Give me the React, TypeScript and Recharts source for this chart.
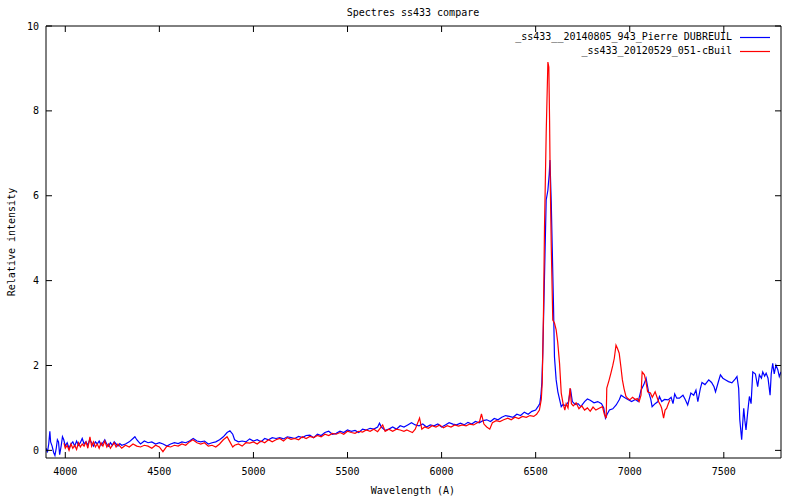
import React from 'react';
import { LineChart, Line, XAxis, YAxis, Legend } from 'recharts';

const seriesNames = ['_ss433__20140805_943_Pierre DUBREUIL', '_ss433_20120529_051-cBuil'];
const seriesColors = ['#0000ff', '#ff0000'];
const xTicks = [4000, 4500, 5000, 5500, 6000, 6500, 7000, 7500];
const yTicks = [0, 2, 4, 6, 8, 10];
const titleText = 'Spectres ss433 compare';
const xTitle = 'Wavelength (A)';
const yTitle = 'Relative intensity';

const blueWave = [
  3898, 3905, 3912, 3918, 3922, 3930, 3938, 3945, 3952, 3958, 3964, 3970, 3978, 3985, 3992,
  4000, 4010, 4020, 4030, 4040, 4050, 4060, 4070, 4080, 4090, 4100, 4110, 4120, 4130, 4140,
  4150, 4160, 4170, 4180, 4190, 4200, 4210, 4220, 4230, 4240, 4250, 4260, 4270, 4280, 4290,
  4300, 4320, 4340, 4360, 4370, 4380, 4390, 4400, 4420, 4440, 4460, 4480, 4500, 4520, 4540,
  4560, 4580, 4600, 4620, 4640, 4660, 4680, 4700, 4720, 4740, 4760, 4780, 4800, 4820, 4840,
  4860, 4875, 4890, 4900, 4920, 4940, 4960, 4980, 5000, 5020, 5040, 5060, 5080, 5100, 5120,
  5140, 5160, 5180, 5200, 5220, 5240, 5260, 5280, 5300, 5320, 5340, 5360, 5380, 5400, 5420,
  5440, 5460, 5480, 5500, 5520, 5540, 5560, 5580, 5600, 5620, 5640, 5660, 5670, 5680, 5700,
  5720, 5740, 5760, 5780, 5800, 5820, 5840, 5860, 5880, 5900, 5920, 5940, 5960, 5980, 6000,
  6020, 6040, 6060, 6080, 6100, 6120, 6140, 6160, 6180, 6200, 6220, 6240, 6260, 6280, 6300,
  6320, 6340, 6360, 6380, 6400, 6420, 6440, 6460, 6480, 6500, 6515, 6522, 6528, 6533, 6538,
  6547, 6556, 6565, 6572, 6576, 6583, 6588, 6595, 6600, 6609, 6618, 6636, 6645, 6660, 6675,
  6685, 6695, 6710, 6725, 6740, 6760, 6775, 6790, 6810, 6830, 6850, 6862, 6871, 6880, 6892,
  6910, 6928, 6945, 6954, 6970, 6990, 7010, 7030, 7045, 7060, 7075, 7087, 7100, 7112, 7119,
  7135, 7150, 7158, 7170, 7185, 7204, 7220, 7230, 7239, 7250, 7264, 7283, 7295, 7308, 7325,
  7340, 7352, 7362, 7375, 7384, 7400, 7420, 7435, 7448, 7456, 7470, 7482, 7495, 7510, 7525,
  7543, 7560, 7570, 7579, 7585, 7595, 7600, 7606, 7612, 7618, 7627, 7636, 7645, 7654, 7668,
  7680, 7689, 7700, 7707, 7717, 7725, 7735, 7746, 7752, 7760, 7768, 7777, 7787, 7795, 7804,
];
const blueFlux = [
  0.05, -0.05, 0.15, 0.45, 0.2, 0.1, -0.05, -0.12, 0.05, 0.25, 0.2, -0.1, 0.1, 0.32, 0.25,
  0.1, 0.18, 0.05, 0.15, 0.2, 0.1, 0.22, 0.12, 0.18, 0.28, 0.15, 0.2, 0.12, 0.25, 0.18,
  0.1, 0.2, 0.15, 0.22, 0.12, 0.18, 0.25, 0.15, 0.1, 0.18, 0.12, 0.2, 0.15, 0.1, 0.16,
  0.12, 0.15, 0.2, 0.28, 0.32, 0.25, 0.2, 0.15, 0.22, 0.18, 0.2, 0.15, 0.18, 0.15, 0.1,
  0.15, 0.18, 0.16, 0.2, 0.18, 0.22, 0.28, 0.22, 0.2, 0.22, 0.15, 0.18, 0.2, 0.25, 0.32,
  0.42, 0.46, 0.38, 0.25, 0.2, 0.22, 0.2, 0.27, 0.22, 0.25, 0.2, 0.28, 0.25, 0.3, 0.28,
  0.3, 0.27, 0.32, 0.3, 0.28, 0.33, 0.3, 0.35, 0.36, 0.3, 0.38, 0.35, 0.42, 0.45, 0.38,
  0.4, 0.45, 0.42, 0.48, 0.45, 0.47, 0.42, 0.5, 0.48, 0.52, 0.5, 0.55, 0.64, 0.55, 0.47,
  0.5, 0.55, 0.5, 0.58, 0.55, 0.6, 0.65, 0.6, 0.58, 0.62, 0.55, 0.6, 0.58, 0.62, 0.55,
  0.6, 0.65, 0.62, 0.6, 0.64, 0.6, 0.66, 0.62, 0.68, 0.65, 0.7, 0.72, 0.68, 0.75, 0.72,
  0.78, 0.82, 0.8, 0.78, 0.85, 0.82, 0.9, 0.85, 0.92, 0.95, 1.05, 1.1, 1.3, 1.6, 2.3,
  4.1, 5.9, 6.13, 6.5, 6.84, 5.82, 4.8, 3.38, 2.2, 1.66, 1.38, 1.03, 1.08, 1.05, 1.15,
  1.45, 1.15, 1.08, 1.1, 1.03, 1.15, 1.21, 1.18, 1.12, 1.15, 1.1, 1.0, 0.76, 0.85, 0.95,
  0.98, 1.07, 1.2, 1.3, 1.25, 1.2, 1.15, 1.2, 1.15, 1.42, 1.55, 1.7, 1.38, 1.2, 1.03,
  1.1, 1.15, 1.27, 1.15, 1.2, 1.19, 1.25, 1.1, 1.33, 1.23, 1.23, 1.3, 1.2, 1.07, 1.35,
  1.3, 1.42, 1.15, 1.45, 1.6, 1.55, 1.66, 1.6, 1.5, 1.38, 1.6, 1.78, 1.7, 1.66, 1.62,
  1.59, 1.68, 1.74, 1.46, 0.72, 0.25, 0.6, 0.99, 0.7, 0.48, 0.9, 1.27, 1.1, 1.85, 1.8,
  1.5, 1.78, 1.7, 1.85, 1.75, 1.82, 1.7, 1.3, 1.8, 2.05, 1.8, 2.01, 1.9, 1.74, 1.85,
];

const redWave = [
  3993, 4000, 4010, 4020, 4030, 4040, 4050, 4060, 4070, 4080, 4090, 4100, 4110, 4120, 4131,
  4140, 4150, 4160, 4170, 4180, 4190, 4200, 4210, 4221, 4230, 4240, 4250, 4260, 4270, 4280,
  4290, 4300, 4320, 4340, 4360, 4380, 4400, 4420, 4440, 4460, 4480, 4500, 4519, 4540, 4560,
  4580, 4600, 4620, 4640, 4660, 4678, 4700, 4720, 4740, 4760, 4780, 4800, 4820, 4840, 4860,
  4875, 4890, 4900, 4920, 4940, 4960, 4980, 5000, 5020, 5040, 5060, 5080, 5100, 5120, 5140,
  5160, 5180, 5200, 5220, 5240, 5260, 5280, 5300, 5320, 5340, 5360, 5380, 5400, 5420, 5440,
  5460, 5480, 5500, 5520, 5540, 5560, 5580, 5600, 5620, 5640, 5660, 5687, 5700, 5720, 5740,
  5760, 5780, 5800, 5815, 5830, 5845, 5860, 5883, 5895, 5910, 5930, 5950, 5970, 5990, 6010,
  6030, 6050, 6070, 6090, 6110, 6130, 6150, 6170, 6190, 6202, 6212, 6225, 6240, 6256, 6270,
  6290, 6310, 6330, 6352, 6370, 6390, 6410, 6430, 6450, 6470, 6490, 6505, 6520, 6530, 6535,
  6538, 6542, 6547, 6556, 6565, 6570, 6574, 6577, 6583, 6591, 6600, 6609, 6617, 6627, 6636,
  6645, 6655, 6662, 6672, 6683, 6690, 6700, 6715, 6730, 6745, 6760, 6775, 6790, 6805, 6820,
  6840, 6855, 6865, 6875, 6878, 6890, 6900, 6910, 6918, 6927, 6935, 6944, 6953, 6961, 6970,
  6980, 6990, 7000, 7015, 7030, 7040, 7050, 7060, 7066, 7078, 7087, 7095, 7110, 7120, 7135,
  7145, 7153, 7165, 7170, 7180, 7188, 7196, 7205, 7214,
];
const redFlux = [
  0.17, 0.05, 0.12, 0.0, 0.15, 0.05, 0.12, 0.02, 0.18, 0.08, 0.15, 0.1, 0.2, 0.05, 0.32,
  0.1, 0.2, 0.08, 0.15, 0.05, 0.18, 0.1, 0.22, 0.08, 0.15, 0.05, 0.12, 0.18, 0.08, 0.15,
  0.1, 0.05, 0.12, 0.08, 0.15, 0.1, 0.08, 0.12, 0.1, 0.05, 0.12, 0.08, -0.03, 0.1, 0.08,
  0.12, 0.1, 0.15, 0.12, 0.2, 0.25, 0.18, 0.15, 0.18, 0.1, 0.12, 0.08, 0.15, 0.25, 0.32,
  0.2, 0.08, 0.12, 0.15, 0.1, 0.18, 0.17, 0.2, 0.15, 0.22, 0.18, 0.25, 0.2, 0.25, 0.28,
  0.22, 0.3, 0.26, 0.28, 0.25, 0.32, 0.28, 0.33, 0.3, 0.35, 0.32, 0.38, 0.35, 0.4, 0.38,
  0.42, 0.38, 0.45, 0.42, 0.4, 0.45, 0.43, 0.48, 0.45, 0.5, 0.44, 0.6, 0.45, 0.5, 0.45,
  0.5, 0.48, 0.45, 0.48, 0.45, 0.42, 0.5, 0.76, 0.5, 0.55, 0.52, 0.58, 0.55, 0.6, 0.53,
  0.58, 0.55, 0.6, 0.57, 0.6, 0.58, 0.62, 0.6, 0.65, 0.68, 0.86, 0.62, 0.55, 0.5, 0.65,
  0.7, 0.68, 0.72, 0.76, 0.72, 0.78, 0.75, 0.8, 0.78, 0.82, 0.8, 0.85, 0.95, 1.2, 1.6,
  2.32, 3.38, 5.24, 7.47, 9.15, 9.03, 7.78, 6.5, 4.8, 3.07, 3.0, 2.84, 2.56, 2.05, 1.35,
  1.12, 0.95, 1.1, 1.0, 1.47, 1.1, 1.05, 1.12, 0.98, 1.05, 0.95, 1.0, 0.92, 1.02, 0.95,
  1.0, 1.03, 0.85, 0.76, 1.47, 1.65, 1.82, 2.0, 2.17, 2.48, 2.4, 2.29, 1.97, 1.66, 1.45,
  1.27, 1.22, 1.19, 1.25, 1.2, 1.22, 1.15, 1.3, 1.85, 1.78, 1.6, 1.38, 1.35, 1.25, 1.38,
  1.25, 1.15, 1.05, 0.99, 0.76, 0.95, 0.99, 1.1, 1.19,
];

const blueData = blueWave.map((w, i) => ({ w, v: blueFlux[i] }));
const redData = redWave.map((w, i) => ({ w, v: redFlux[i] }));

const FONT = '"DejaVu Sans Mono", monospace';
const TICK_LEN = 6;

// tick marks are drawn inside the frame, like gnuplot's default "tics in"
const BottomTick = (props: any) => {
  const { x, y, payload } = props;
  return (
    <g>
      <rect x={x - 0.5} y={y - TICK_LEN} width={1} height={TICK_LEN} fill="#000" stroke="none" />
      <text x={x} y={y + 17} textAnchor="middle" fontFamily={FONT} fontSize={10} fill="#000" stroke="none">
        {payload.value}
      </text>
    </g>
  );
};
const TopTick = (props: any) => {
  const { x, y } = props;
  return <rect x={x - 0.5} y={y} width={1} height={TICK_LEN} fill="#000" stroke="none" />;
};
const LeftTick = (props: any) => {
  const { x, y, payload } = props;
  return (
    <g>
      <rect x={x} y={y - 0.5} width={TICK_LEN} height={1} fill="#000" stroke="none" />
      <text x={x - 7} y={y + 3.5} textAnchor="end" fontFamily={FONT} fontSize={10} fill="#000" stroke="none">
        {payload.value}
      </text>
    </g>
  );
};
const RightTick = (props: any) => {
  const { x, y } = props;
  return <rect x={x - TICK_LEN} y={y - 0.5} width={TICK_LEN} height={1} fill="#000" stroke="none" />;
};

const LegendBox = () => (
  <div style={{ fontFamily: FONT, fontSize: 10, color: '#000' }}>
    {seriesNames.map((name, i) => (
      <div
        key={name}
        style={{ display: 'flex', justifyContent: 'flex-end', alignItems: 'center', height: 14, lineHeight: '14px' }}
      >
        <span style={{ whiteSpace: 'pre' }}>{name}</span>
        <svg width={30} height={14} style={{ marginLeft: 8, display: 'block' }}>
          <line x1={0} x2={30} y1={7.5} y2={7.5} stroke={seriesColors[i]} strokeWidth={1.2} />
        </svg>
      </div>
    ))}
  </div>
);

export default function App() {
  return (
    <div style={{ position: 'absolute', left: 0, top: 0, width: 800, height: 500, background: '#fff' }}>
      <LineChart width={800} height={500} margin={{ top: 25, right: 18, bottom: 0, left: 0 }}>
        <XAxis
          xAxisId="b"
          dataKey="w"
          type="number"
          domain={[3897.5, 7804]}
          ticks={xTicks}
          allowDataOverflow
          height={42}
          tickSize={0}
          tickMargin={0}
          tickLine={false}
          tick={<BottomTick />}
          axisLine={{ stroke: '#000' }}
        />
        <XAxis
          xAxisId="t"
          orientation="top"
          dataKey="w"
          type="number"
          domain={[3897.5, 7804]}
          ticks={xTicks}
          allowDataOverflow
          height={1}
          tickSize={0}
          tickMargin={0}
          tickLine={false}
          tick={<TopTick />}
          axisLine={{ stroke: '#000' }}
        />
        <YAxis
          yAxisId="l"
          type="number"
          domain={[-0.18, 10]}
          ticks={yTicks}
          allowDataOverflow
          width={46}
          tickSize={0}
          tickMargin={0}
          tickLine={false}
          tick={<LeftTick />}
          axisLine={{ stroke: '#000' }}
        />
        <YAxis
          yAxisId="r"
          orientation="right"
          type="number"
          domain={[-0.18, 10]}
          ticks={yTicks}
          allowDataOverflow
          width={1}
          tickSize={0}
          tickMargin={0}
          tickLine={false}
          tick={<RightTick />}
          axisLine={{ stroke: '#000' }}
        />
        <Legend
          layout="vertical"
          align="center"
          verticalAlign="middle"
          content={<LegendBox />}
          wrapperStyle={{ position: 'absolute', top: 30, left: 0, width: 770, height: 28 }}
        />
        <Line
          data={blueData}
          xAxisId="b"
          yAxisId="l"
          dataKey="v"
          name={seriesNames[0]}
          stroke={seriesColors[0]}
          strokeWidth={1.2}
          dot={false}
          activeDot={false}
          type="linear"
          isAnimationActive={false}
        />
        <Line
          data={redData}
          xAxisId="b"
          yAxisId="l"
          dataKey="v"
          name={seriesNames[1]}
          stroke={seriesColors[1]}
          strokeWidth={1.2}
          dot={false}
          activeDot={false}
          type="linear"
          isAnimationActive={false}
        />
      </LineChart>
      <div style={{ position: 'absolute', left: 313, top: 6, width: 200, textAlign: 'center', fontFamily: FONT, fontSize: 10, lineHeight: '14px' }}>
        {titleText}
      </div>
      <div style={{ position: 'absolute', left: 313, top: 484, width: 200, textAlign: 'center', fontFamily: FONT, fontSize: 10, lineHeight: '14px' }}>
        {xTitle}
      </div>
      <div
        style={{
          position: 'absolute',
          left: 12 - 100,
          top: 242 - 7,
          width: 200,
          textAlign: 'center',
          fontFamily: FONT,
          fontSize: 10,
          lineHeight: '14px',
          transform: 'rotate(-90deg)',
        }}
      >
        {yTitle}
      </div>
    </div>
  );
}
